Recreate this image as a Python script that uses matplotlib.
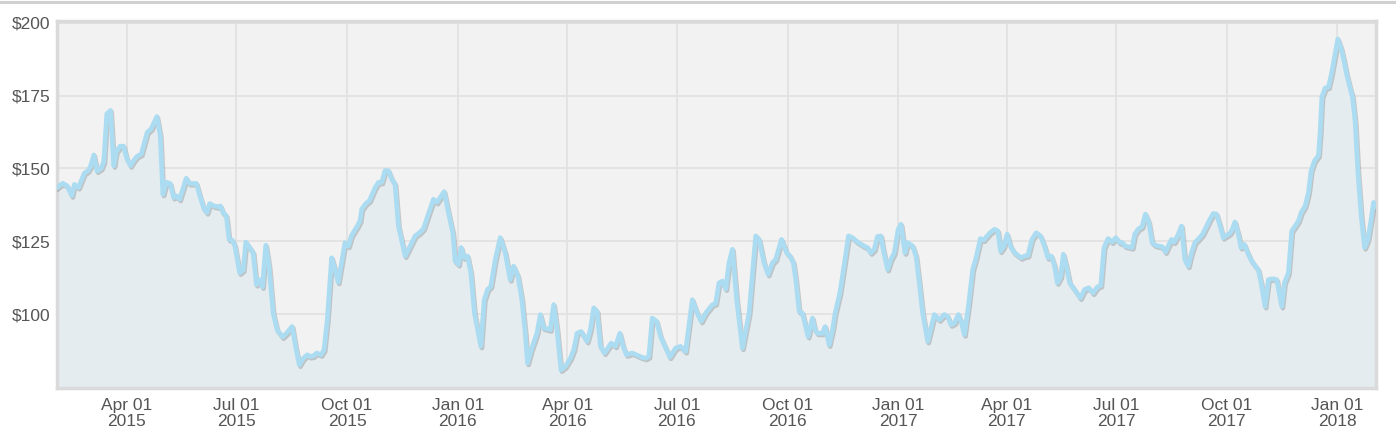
import numpy as np
import pandas as pd
import matplotlib
matplotlib.use("Agg")
import matplotlib.pyplot as plt
import matplotlib.dates as mdates
from matplotlib.ticker import FuncFormatter
import matplotlib.patheffects as pe

# price history, days counted from 2015-02-01
START = pd.Timestamp("2015-02-01")
DAYS = [
    1, 5.8, 9.4, 13.3, 15.5, 18.8, 23.8, 26.6, 28.8, 31.6, 34.3, 37.7, 39.9, 42.4, 45.5,
    48.2, 50.2, 53.5, 56.3, 59.0, 62.1, 64.6, 67.4, 71.0, 76.0, 79.3, 84.0, 86.8, 89.0,
    91.8, 95.1, 97.9, 100.1, 102.9, 108.4, 111.2, 116.8, 120.1, 123.1, 125.6, 127.9,
    131.5, 134.8, 136.8, 139.0, 141.7, 144.0, 146.5, 148.7, 151.5,
    152.8, 155.7, 157.9, 161.2, 164.0, 166.7, 168.9, 171.7, 174.5, 177.2, 180.6, 183.9,
    188.4, 191.7, 196.4, 199.5, 202.4, 205.7, 209.0, 211.2, 214.0, 216.8, 220.4, 222.9,
    225.6, 229.2, 232.0, 234.7, 237.5, 240.3, 243.1, 245.8, 250.6, 252.8, 254.2, 257.8,
    260.6, 265.3, 268.1, 270.8, 273.6, 276.4, 279.2, 281.9, 284.7, 290.3, 298.6, 302.2,
    305.5, 313.8, 316.6, 322.7,
    326.3, 329.9, 331.8, 334.6, 336.8, 339.3, 342.1, 344.9, 347.9, 353.2, 356.0, 358.8,
    361.5, 365.2, 369.3, 373.5, 377.6, 380.4, 384.0, 387.3, 390.1, 392.0, 395.1, 399.8,
    402.6, 405.4, 410.9, 413.7, 416.5, 419.8, 423.4, 427.6, 430.4, 433.1, 436.5, 441.5,
    444.2, 447.0, 449.8, 452.6, 455.9, 458.7, 461.5, 465.1, 468.7, 471.4, 474.2, 478.9,
    484.5, 486.7, 490.0, 492.8, 495.6, 499.2, 502.5, 506.7, 510.3, 515.0, 519.2,
    523.3, 528.9, 533.0, 536.4, 540.0, 545.6, 548.3, 551.1, 553.9, 556.7, 559.4, 562.2,
    565.8, 570.5, 576.1, 581.6, 584.4, 588.5, 591.9, 595.5, 598.2, 603.0, 607.4, 610.2,
    612.9, 614.9, 617.7, 620.4, 625.1, 628.7, 630.9, 632.9, 637.0, 639.3, 642.6, 645.4,
    647.6, 651.5, 653.7, 658.7, 662.0, 666.2, 671.7, 674.5, 677.3, 680.1, 682.8, 685.6,
    687.8, 691.2, 693.9, 696.7, 700.0,
    702.3, 705.6, 707.8, 712.0, 714.8, 717.5, 720.3, 724.5, 730.0, 734.2, 738.3, 741.1,
    743.9, 746.7, 750.0, 752.2, 755.0, 758.3, 761.9, 764.7, 768.3, 771.1, 775.8, 780.0,
    782.8, 785.0, 787.8, 790.5, 793.3, 796.7, 802.2, 805.0, 807.8, 811.1, 814.7, 818.3,
    821.6, 824.4, 827.2, 830.0, 832.2, 835.0, 837.2, 839.7, 842.5, 846.6, 851.3, 854.9,
    858.3, 861.9, 865.5, 868.3, 871.0, 874.4, 877.7, 880.8, 884.1,
    886.0, 888.8, 891.0, 894.4, 896.5, 899.3, 902.6, 905.4, 908.2, 911.0, 913.8, 916.5,
    919.3, 922.1, 924.3, 927.1, 929.3, 932.1, 935.4, 938.2, 941.0, 943.7, 946.5, 949.8,
    952.9, 956.2, 959.0, 961.8, 964.5, 967.3, 970.1, 972.9, 975.6, 977.6, 979.8, 982.6,
    984.8, 987.6, 990.4, 993.7, 997.0, 999.3, 1001.5, 1004.8, 1007.6, 1010.9, 1014.5,
    1018.7, 1020.9, 1024.2, 1027.0, 1029.8, 1032.6, 1034.8, 1038.1, 1040.9, 1043.1,
    1045.9, 1049.2, 1050.6, 1052.0, 1054.8, 1057.5, 1060.3, 1063.1, 1065.3, 1068.1,
    1070.0, 1072.8, 1075.6, 1077.5, 1079.7, 1082.0, 1084.7, 1087.5, 1090.3, 1093.0,
    1095.0, 1097.0,
]
PRICES = [
    143.4, 144.9, 144.0, 140.6, 144.5, 143.4, 148.4, 149.1, 150.6, 154.6, 149.1, 150.0,
    152.3, 168.7, 169.9, 150.9, 155.7, 157.6, 157.6, 153.4, 150.9, 152.6, 154.1, 154.9,
    162.4, 163.6, 167.8, 161.3, 141.1, 145.2, 144.8, 140.0, 140.6, 139.4, 146.6, 144.8,
    144.8, 140.0, 136.2, 134.8, 137.9, 137.1, 136.8, 137.1, 134.8, 133.7, 125.6, 125.4,
    123.6, 117.0,
    114.1, 115.1, 124.7, 122.8, 121.0, 110.1, 111.8, 109.3, 123.6, 116.4, 100.3, 94.6,
    92.1, 93.4, 95.7, 88.3, 82.5, 84.8, 86.0, 85.4, 85.6, 86.6, 86.0, 87.7,
    98.0, 119.3, 115.3, 110.9, 117.6, 124.5, 123.3, 127.0, 130.2, 132.0, 136.0, 138.0,
    138.9, 143.4, 145.2, 145.2, 149.2, 149.2, 146.3, 144.6, 130.2, 119.9, 126.8, 127.9,
    129.3, 139.4, 138.3, 142.0,
    134.8, 127.9, 118.2, 117.0, 122.8, 119.3, 119.9, 114.1, 100.3, 88.9, 104.9, 108.4,
    109.5, 118.7, 126.2, 121.0, 111.8, 116.4, 113.0, 104.9, 93.4, 83.1, 87.7, 93.4,
    99.8, 95.2, 94.6, 103.2, 94.6, 80.8, 82.0, 84.8, 87.7, 93.4, 94.0, 90.6,
    94.6, 102.1, 100.9, 88.9, 86.6, 88.3, 90.0, 88.9, 93.4, 88.9, 86.0, 86.6,
    85.6, 85.2, 84.8, 85.4, 98.6, 97.5, 92.3, 88.5, 85.2, 88.3, 88.9,
    87.1, 104.9, 100.3, 97.5, 100.3, 103.2, 103.6, 110.7, 111.3, 108.6, 117.6, 122.2,
    104.9, 88.3, 100.3, 126.8, 125.6, 117.6, 113.6, 117.6, 118.7, 125.6, 121.0, 119.9,
    117.6, 111.8, 100.9, 100.3, 92.3, 98.6, 94.6, 93.4, 93.4, 95.7, 89.4, 94.6,
    100.3, 107.2, 113.0, 126.8, 126.2, 124.7, 123.3, 122.8, 121.0, 122.2, 126.6, 126.8,
    121.6, 115.3, 118.7, 121.0, 129.1,
    130.8, 121.0, 124.5, 123.3, 119.9, 110.7, 100.3, 90.6, 99.8, 98.0, 99.8, 99.2,
    96.3, 96.9, 99.8, 97.5, 92.9, 102.6, 115.3, 119.3, 125.9, 125.4, 127.7, 129.1,
    128.5, 121.6, 123.3, 127.4, 123.3, 121.0, 119.3, 119.9, 120.1, 125.6, 127.9, 126.8,
    123.3, 119.3, 119.9, 116.4, 110.7, 112.8, 120.5, 116.4, 110.7, 108.4, 105.5, 108.4,
    109.0, 107.2, 109.3, 109.8, 122.8, 125.9, 124.7, 126.2, 124.5,
    124.5, 123.3, 123.1, 122.8, 127.4, 129.1, 130.0, 134.3, 131.6, 124.5, 123.6, 123.3,
    123.1, 121.3, 123.3, 125.6, 124.7, 126.8, 130.2, 118.7, 116.4, 121.0, 124.5, 125.9,
    127.4, 130.2, 132.5, 134.5, 134.3, 130.5, 126.2, 127.0, 127.7, 129.1, 131.6, 127.4,
    122.8, 123.9, 121.0, 118.2, 116.4, 115.1, 110.7, 102.6, 111.8, 112.1, 111.8,
    102.6, 110.7, 114.1, 128.5, 130.2, 132.0, 134.8, 137.1, 141.7, 149.2,
    152.6, 154.4, 162.4, 174.5, 177.6, 177.9, 183.1, 189.4, 194.4, 191.1,
    187.7, 182.0, 177.4, 174.5, 165.9, 148.6, 133.7, 122.8, 125.6, 132.5,
    138.3, 137.1,
]
TICK_DATES = ["2015-04-01", "2015-07-01", "2015-10-01", "2016-01-01", "2016-04-01",
              "2016-07-01", "2016-10-01", "2017-01-01", "2017-04-01", "2017-07-01",
              "2017-10-01", "2018-01-01"]
Y_TICKS = [100, 125, 150, 175, 200]

dates = START + pd.to_timedelta(np.array(DAYS), unit="D")
prices = np.array(PRICES)

plt.rcParams["font.family"] = ["Liberation Sans", "DejaVu Sans"]

W, H = 1396, 445
fig = plt.figure(figsize=(W / 100, H / 100), dpi=100)
ax = fig.add_axes([57 / W, (H - 388) / H, (1376 - 57) / W, (388 - 21) / H])
ax.set_facecolor("#f2f2f2")

ax.fill_between(dates, prices, 0, color="#e4ecf0", zorder=2)
ax.plot(dates, prices, color="#acdcf1", lw=3.4, solid_joinstyle="round", zorder=3,
        path_effects=[pe.SimpleLineShadow(offset=(0.8, -1.2), shadow_color="#777777", alpha=0.35),
                      pe.Normal()])

ax.set_xlim(dates[0], dates[-1])
ax.set_ylim(74.6, 200.6)
ax.set_yticks(Y_TICKS)
ax.yaxis.set_major_formatter(FuncFormatter(lambda v, p: f"${v:.0f}"))
ax.set_xticks(pd.to_datetime(TICK_DATES))
ax.xaxis.set_major_formatter(mdates.DateFormatter("%b %d\n%Y"))

ax.grid(True, color="#e2e2e2", lw=1.3, zorder=1)
ax.set_axisbelow(True)
ax.tick_params(length=0, labelsize=12.5, colors="#555555")
ax.tick_params(axis="x", pad=7)
ax.tick_params(axis="y", pad=5)
for lbl in ax.get_xticklabels():
    lbl.set_linespacing(1.12)
for s in ax.spines.values():
    s.set_color("#dadada")
    s.set_linewidth(2.5)

# thin grey bar at the very top of the image
fig.add_artist(plt.Line2D([0, 1], [1 - 1.5 / H, 1 - 1.5 / H], color="#d0d0d0", lw=2.2,
                          transform=fig.transFigure))

fig.savefig("out.png", dpi=100)
